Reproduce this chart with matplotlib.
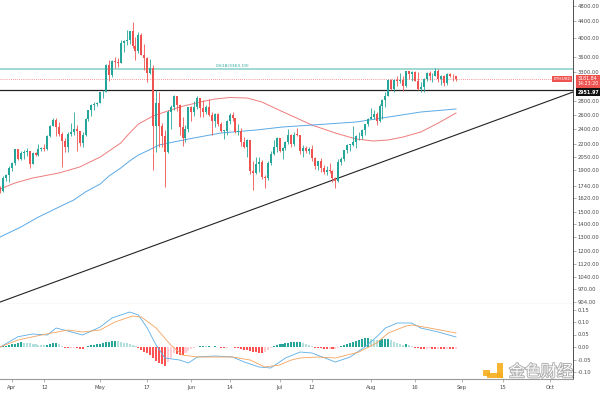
import matplotlib
matplotlib.use('Agg')
import matplotlib.pyplot as plt
import matplotlib.dates as mdates
import matplotlib.patheffects as pe
from matplotlib.patches import Rectangle
import numpy as np
import pandas as pd

# ---------------- data (ETHUSD daily) ----------------
dates = pd.date_range('2021-03-28', '2021-08-30', freq='D')
first_open = 1716

close = [1691, 1817, 1846, 1918,
         1977, 2142, 2028, 2093, 2107, 2115, 1969, 2087, 2073, 2136, 2154, 2137, 2304, 2433, 2515,
         2423, 2330, 2236, 2164, 2331, 2357, 2402, 2364, 2214, 2316, 2535, 2663, 2747, 2756, 2773,
         2945, 2950, 3431, 3253, 3522, 3490, 3484, 3903, 3928, 3950, 4169, 3826, 3716, 4080, 3640,
         3580, 3290, 3380, 2440, 2780, 2430, 2300, 2100, 2640, 2710, 2890, 2740, 2420, 2280, 2390, 2710,
         2630, 2710, 2860, 2690, 2630, 2710, 2590, 2510, 2610, 2470, 2370, 2370, 2510, 2590, 2550,
         2360, 2370, 2230, 2170, 2250, 1890, 1870, 1970, 1990, 1830, 1820, 1980, 2080, 2160, 2275,
         2110, 2150, 2225, 2320, 2200, 2320, 2315, 2120, 2150, 2110, 2140, 2030, 1940, 1995, 1920,
         1875, 1900, 1895, 1820, 1785, 1990, 2025, 2125, 2190, 2190, 2230, 2300, 2300, 2380, 2460, 2540,
         2560, 2610, 2510, 2725, 2830, 2890, 3155, 3010, 3165, 3140, 3165, 3050, 3320, 3270, 3310,
         3150, 3010, 3030, 3180, 3290, 3225, 3240, 3325, 3175, 3230, 3100, 3270, 3240, 3225, 3182]

high = [1733, 1840, 1860, 1943,
        1992, 2145, 2145, 2112, 2133, 2155, 2121, 2100, 2103, 2197, 2165, 2200, 2320, 2450, 2545,
        2547, 2490, 2350, 2275, 2355, 2485, 2644, 2447, 2370, 2360, 2545, 2670, 2760, 2795, 2797,
        2948, 2986, 3450, 3530, 3540, 3600, 3580, 3960, 3970, 4190, 4178, 4382, 4030, 4148, 4128,
        3880, 3590, 3560, 3440, 2990, 2950, 2480, 2380, 2660, 2750, 2910, 2890, 2760, 2560, 2450, 2715,
        2730, 2800, 2890, 2860, 2820, 2740, 2840, 2630, 2620, 2620, 2490, 2380, 2525, 2620, 2630,
        2550, 2460, 2410, 2285, 2270, 2250, 2000, 2050, 2040, 2010, 1850, 2000, 2110, 2250, 2285,
        2280, 2160, 2240, 2390, 2330, 2350, 2410, 2320, 2190, 2180, 2160, 2190, 2040, 2000, 2030,
        1960, 1940, 1980, 1900, 1830, 2020, 2040, 2130, 2200, 2200, 2440, 2320, 2350, 2400, 2470, 2550,
        2700, 2670, 2630, 2760, 2840, 2950, 3170, 3185, 3180, 3230, 3280, 3230, 3330, 3330, 3320,
        3320, 3300, 3120, 3190, 3300, 3320, 3280, 3375, 3360, 3250, 3250, 3280, 3290, 3260, 3240]

low = [1670, 1677, 1782, 1776,
       1893, 1956, 2010, 2012, 2028, 2061, 1924, 1965, 2057, 2060, 2110, 2117, 2130, 2295, 2430,
       2305, 2300, 1935, 2100, 2100, 2300, 2316, 2112, 2180, 2165, 2300, 2510, 2580, 2660, 2730,
       2768, 2850, 2950, 3150, 3210, 3375, 3400, 3480, 3700, 3860, 3870, 3780, 3528, 3690, 3630,
       3350, 3130, 3260, 1900, 2100, 2170, 2160, 1730, 2090, 2390, 2660, 2650, 2320, 2180, 2230, 2360,
       2510, 2580, 2680, 2560, 2560, 2610, 2580, 2320, 2420, 2440, 2350, 2260, 2310, 2460, 2510,
       2340, 2310, 2180, 2150, 2050, 1860, 1700, 1860, 1880, 1810, 1720, 1800, 1960, 2070, 2100,
       2100, 2020, 2130, 2205, 2170, 2180, 2300, 2080, 2050, 2090, 2080, 2000, 1910, 1900, 1880,
       1860, 1850, 1870, 1780, 1720, 1780, 1960, 2000, 2090, 2120, 2180, 2150, 2250, 2270, 2320, 2440,
       2550, 2540, 2450, 2490, 2530, 2720, 2880, 2990, 2950, 3060, 3110, 2970, 3030, 3170, 3150,
       3140, 2990, 2960, 2960, 3150, 3160, 3130, 3240, 3130, 3080, 3060, 3070, 3210, 3150, 3150]

# moving averages (sampled along the curves)
ma_fast_dates = ['2021-03-28', '2021-04-02', '2021-04-08', '2021-04-17', '2021-04-24', '2021-05-01',
                 '2021-05-04', '2021-05-08', '2021-05-11', '2021-05-14', '2021-05-19', '2021-05-24',
                 '2021-05-28', '2021-06-04', '2021-06-09', '2021-06-14', '2021-06-20', '2021-06-25',
                 '2021-06-30', '2021-07-06', '2021-07-12', '2021-07-20', '2021-07-27', '2021-08-02',
                 '2021-08-07', '2021-08-12', '2021-08-18', '2021-08-24', '2021-08-30']
ma_fast = [1707, 1766, 1816, 1869, 1933, 2045, 2116, 2214, 2342, 2464, 2579, 2652,
           2713, 2790, 2838, 2862, 2854, 2790, 2683, 2564, 2450, 2342, 2264, 2239,
           2252, 2290, 2355, 2478, 2622]

ma_slow_dates = ['2021-03-28', '2021-04-04', '2021-04-10', '2021-04-17', '2021-04-22', '2021-04-26',
                 '2021-05-01', '2021-05-04', '2021-05-08', '2021-05-11', '2021-05-14', '2021-05-18',
                 '2021-05-21', '2021-05-26', '2021-05-31', '2021-06-11', '2021-06-23', '2021-07-02',
                 '2021-07-12', '2021-07-27', '2021-08-07', '2021-08-18', '2021-08-30']
ma_slow = [1302, 1377, 1457, 1542, 1604, 1679, 1756, 1837, 1922, 2000, 2069, 2134,
           2189, 2226, 2264, 2342, 2382, 2423, 2450, 2492, 2563, 2637, 2682]

fib_level = 3363.19
last_price = 3181.84
hline_level = 2990
trend_dates = ['2021-03-27 21:00', '2021-10-08 19:00']
trend_values = [901, 2951.97]

# MACD pane
macd_dates = ['2021-03-28', '2021-04-03', '2021-04-08', '2021-04-13', '2021-04-16', '2021-04-20',
              '2021-04-25', '2021-05-01', '2021-05-05', '2021-05-11', '2021-05-14', '2021-05-17',
              '2021-05-20', '2021-05-23', '2021-05-28', '2021-05-31', '2021-06-03', '2021-06-09',
              '2021-06-15', '2021-06-19', '2021-06-24', '2021-06-28', '2021-07-03', '2021-07-08',
              '2021-07-12', '2021-07-20', '2021-07-25', '2021-07-30', '2021-08-03', '2021-08-06',
              '2021-08-10', '2021-08-15', '2021-08-18', '2021-08-24', '2021-08-30']
macd = [0.000, 0.041, 0.052, 0.048, 0.076, 0.064, 0.048, 0.080, 0.116, 0.140, 0.128, 0.076,
        0.008, -0.044, -0.052, -0.064, -0.040, -0.036, -0.040, -0.060, -0.080, -0.084, -0.044,
        -0.020, -0.024, -0.060, -0.040, 0.000, 0.040, 0.076, 0.096, 0.096, 0.076, 0.060, 0.040]

signal_dates = ['2021-03-28', '2021-04-03', '2021-04-11', '2021-04-20', '2021-04-25', '2021-05-01',
                '2021-05-06', '2021-05-12', '2021-05-15', '2021-05-20', '2021-05-25', '2021-05-29',
                '2021-06-03', '2021-06-09', '2021-06-15', '2021-06-21', '2021-06-26', '2021-07-01',
                '2021-07-05', '2021-07-08', '2021-07-14', '2021-07-20', '2021-07-28', '2021-08-03',
                '2021-08-07', '2021-08-13', '2021-08-15', '2021-08-21', '2021-08-30']
signal = [0.000, 0.028, 0.048, 0.068, 0.060, 0.068, 0.100, 0.124, 0.120, 0.076, 0.008, -0.032,
          -0.040, -0.040, -0.040, -0.052, -0.080, -0.072, -0.052, -0.044, -0.040, -0.044, -0.020,
          0.016, 0.056, 0.084, 0.088, 0.076, 0.056]

hist = [0.002, 0.004, 0.006, 0.008,
        0.011, 0.014, 0.017, 0.019, 0.018, 0.016, 0.015, 0.013, 0.012, 0.010, 0.009, 0.008, 0.010, 0.013, 0.016,
        0.017, 0.012, 0.006, -0.002, -0.004, -0.003, -0.002, -0.004, -0.007, -0.008, 0.002, 0.005, 0.008, 0.010, 0.012,
        0.014, 0.017, 0.020, 0.022, 0.024, 0.025, 0.023, 0.021, 0.018, 0.016, 0.012, 0.008, 0.004, -0.003, -0.010,
        -0.018, -0.025, -0.032, -0.045, -0.055, -0.062, -0.068, -0.075, -0.060, -0.042, -0.025, -0.029, -0.032, -0.033, -0.025,
        -0.015, -0.008, -0.002, 0.002, 0.003, 0.004, 0.003, 0.004, 0.002, 0.003, 0.001, -0.002, -0.004, -0.002, 0.001,
        0.002, -0.002, -0.005, -0.008, -0.010, -0.013, -0.016, -0.019, -0.021, -0.023, -0.024, -0.018, -0.010, -0.003, 0.004,
        0.008, 0.011, 0.013, 0.015, 0.017, 0.019, 0.020, 0.021, 0.022, 0.016, 0.012, 0.008, 0.004, -0.002, -0.004,
        -0.005, -0.006, -0.007, -0.006, -0.008, -0.007, -0.002, 0.004, 0.010, 0.014, 0.018, 0.022, 0.026, 0.030, 0.033, 0.035,
        0.036, 0.032, 0.029, 0.027, 0.029, 0.031, 0.032, 0.033, 0.027, 0.022, 0.018, 0.014, 0.010, 0.012, 0.008,
        0.004, -0.002, -0.005, -0.006, -0.007, -0.006, -0.005, -0.007, -0.008, -0.006, -0.007, -0.008, -0.007, -0.008, -0.009,
        -0.009]

price_ticks = [904, 970, 1040, 1120, 1200, 1300, 1400, 1500, 1620, 1740, 1900, 2050,
               2200, 2400, 2600, 2800, 3300, 3600, 4000, 4400, 4800]
macd_ticks = [-0.10, -0.05, 0.0, 0.05, 0.10, 0.15]
tick_dates = ['2021-04-01', '2021-04-12', '2021-05-01', '2021-05-17', '2021-06-01', '2021-06-14',
              '2021-07-01', '2021-07-12', '2021-08-01', '2021-08-16', '2021-09-01', '2021-09-15',
              '2021-10-01']
tick_labels = ['Apr', '12', 'May', '17', 'Jun', '14', 'Jul', '12', 'Aug', '16', 'Sep', '15', 'Oct']

# ---------------- styling ----------------
UP = '#26a69a'
DOWN = '#ef5350'
TXT = '#4a4a4a'
plt.rcParams['font.family'] = ['DejaVu Sans']

x = mdates.date2num(dates)
close = np.array(close, dtype=float)
opn = np.concatenate([[first_open], close[:-1]])
high = np.maximum(np.array(high, dtype=float), np.maximum(opn, close))
low = np.minimum(np.array(low, dtype=float), np.minimum(opn, close))

fig = plt.figure(figsize=(6, 3.95), dpi=100)
W = 573 / 600
ax = fig.add_axes([0, 1 - 304 / 395, W, 304 / 395])
ax2 = fig.add_axes([0, 1 - 379 / 395, W, 75 / 395], sharex=ax)

x0 = mdates.date2num(pd.Timestamp('2021-04-01')) - 4.08
x1 = mdates.date2num(pd.Timestamp('2021-04-01')) + 190.8
ax.set_xlim(x0, x1)

# candles
up = close >= opn
cols = np.where(up, UP, DOWN)
ax.vlines(x, low, high, colors=cols, linewidth=0.6, zorder=3)
body_lo = np.minimum(opn, close)
body_h = np.maximum(np.abs(close - opn), body_lo * 0.004)
ax.bar(x, body_h, bottom=body_lo, width=0.68, color=cols, linewidth=0, zorder=4)

# moving averages
ax.plot(mdates.date2num(pd.to_datetime(ma_fast_dates)), ma_fast, color='#ef7b7b', lw=0.7, zorder=2)
ax.plot(mdates.date2num(pd.to_datetime(ma_slow_dates)), ma_slow, color='#5aa9e6', lw=0.7, zorder=2)

# levels and trendline
ax.axhline(fib_level, color='#8fd3c9', lw=1.2, zorder=1)
ax.text(mdates.date2num(pd.Timestamp('2021-06-15')), fib_level * 1.006, '0.618(3363.19)',
        color='#26a69a', fontsize=3.2, ha='center', va='bottom')
ax.axhline(last_price, color=DOWN, lw=0.6, ls=(0, (1, 1.5)), alpha=0.8, zorder=1)
ax.axhline(hline_level, color='#222222', lw=0.9, zorder=2)
ax.plot(mdates.date2num(pd.to_datetime(trend_dates)), trend_values, color='#222222', lw=0.8, zorder=2)

ax.set_yscale('log')
ax.set_ylim(891.5, 4965)
ax.yaxis.tick_right()
ax.yaxis.set_major_locator(matplotlib.ticker.FixedLocator(price_ticks))
ax.yaxis.set_minor_locator(matplotlib.ticker.NullLocator())
ax.yaxis.set_major_formatter(matplotlib.ticker.FuncFormatter(lambda v, p: '%.2f' % v))
ax.tick_params(axis='y', labelsize=3.8, labelcolor=TXT, length=2, width=0.4, color='#777777', pad=1.5)
ax.tick_params(axis='x', bottom=False, labelbottom=False)
for s in ['top', 'left']:
    ax.spines[s].set_visible(False)
ax.spines['right'].set_color('#333333')
ax.spines['right'].set_linewidth(0.6)
ax.spines['bottom'].set_color('#9a9a9a')
ax.spines['bottom'].set_linewidth(0.8)

# right-side price labels
tr = matplotlib.transforms.blended_transform_factory(ax.transAxes, ax.transData)
ax.text(0.997, last_price, 'ETHUSD', transform=tr, ha='right', va='center', fontsize=3.2,
        color='white', bbox=dict(boxstyle='square,pad=0.25', fc=DOWN, ec='none'), zorder=6)
ax.text(1.008, last_price * 0.985, '3181.84\n14:23:20', transform=tr, ha='left', va='center',
        fontsize=3.4, color='white', linespacing=1.0, clip_on=False,
        bbox=dict(boxstyle='square,pad=0.3', fc=DOWN, ec='none'), zorder=6)
ax.text(1.008, trend_values[1], '2951.97', transform=tr, ha='left', va='center', fontsize=3.4,
        color='white', clip_on=False, fontweight='bold',
        bbox=dict(boxstyle='square,pad=0.3', fc='#111111', ec='none'), zorder=6)

# ---------------- MACD pane ----------------
hist = np.array(hist)
hcols = []
for i, h in enumerate(hist):
    prev = hist[i - 1] if i > 0 else 0.0
    if h >= 0:
        hcols.append('#26a69a' if h >= prev else '#b2dfdb')
    else:
        hcols.append('#ff5252' if h < prev else '#ffcdd2')
ax2.bar(x, hist, width=0.7, color=hcols, linewidth=0, zorder=2)
ax2.plot(mdates.date2num(pd.to_datetime(macd_dates)), macd, color='#5aaee8', lw=0.6, zorder=3)
ax2.plot(mdates.date2num(pd.to_datetime(signal_dates)), signal, color='#f5a25d', lw=0.6, zorder=3)

ax2.set_ylim(-0.128, 0.172)
ax2.yaxis.tick_right()
ax2.set_yticks(macd_ticks)
ax2.set_yticklabels(['%.2f' % v for v in macd_ticks])
ax2.tick_params(axis='y', labelsize=3.8, labelcolor=TXT, length=2, width=0.4, color='#777777', pad=1.5)
ax2.set_xticks(mdates.date2num(pd.to_datetime(tick_dates)))
ax2.set_xticklabels(tick_labels)
ax2.tick_params(axis='x', labelsize=3.8, labelcolor=TXT, length=2, width=0.4, color='#777777', pad=2)
for s in ['top', 'left']:
    ax2.spines[s].set_visible(False)
ax2.spines['right'].set_color('#333333')
ax2.spines['right'].set_linewidth(0.6)
ax2.spines['bottom'].set_color('#9a9a9a')
ax2.spines['bottom'].set_linewidth(0.8)

# watermark (logo blocks + text)
def fig_rect(px, py, pw, ph):
    return Rectangle((px / 600, 1 - (py + ph) / 395), pw / 600, ph / 395,
                     transform=fig.transFigure, fc='#f5ad1b', ec='none', alpha=0.9, zorder=10)

for r in [(483, 370, 7, 6), (497, 363, 6, 15), (487, 373, 16, 5)]:
    fig.patches.append(fig_rect(*r))
fig.text(541 / 600, 1 - 372 / 395, '金色财经', fontsize=11.5, ha='center', va='center',
         family=['Noto Sans CJK SC', 'DejaVu Sans'], color='white', alpha=0.95,
         path_effects=[pe.withStroke(linewidth=1.3, foreground='#a8a8a8')], zorder=11)

fig.savefig('out.png', dpi=100)
